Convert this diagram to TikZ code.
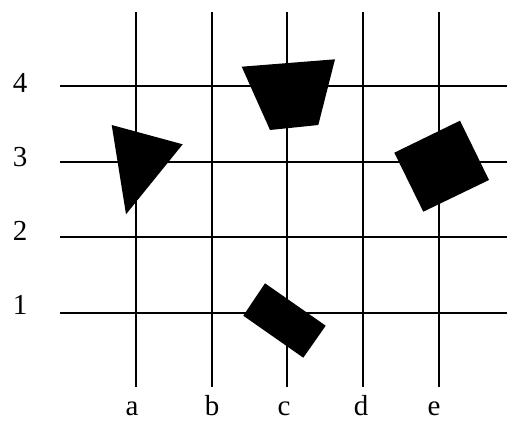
\documentclass[tikz,border=0pt]{standalone}
\usepackage{fontspec}
\setmainfont{Liberation Serif}
\begin{document}
\begin{tikzpicture}[x=1pt,y=-1pt,
  gridline/.style={line width=2pt,black},
  shapefill/.style={fill=black},
  lbl/.style={font=\fontsize{29}{29}\selectfont,inner sep=0pt,anchor=base}]
\useasboundingbox (0,0) rectangle (507,421);
% vertical lines
\foreach \x in {136,212,287,363,439}
  \draw[gridline] (\x,12) -- (\x,387);
% horizontal lines
\foreach \y in {86,162,237,313}
  \draw[gridline] (60,\y) -- (507,\y);
% row labels
\node[lbl] (r4) at (20,92) {4};
\node[lbl] (r3) at (20,166) {3};
\node[lbl] (r2) at (20,240) {2};
\node[lbl] (r1) at (20,314) {1};
% column labels
\node[lbl] (ca) at (132,415.5) {a};
\node[lbl] (cb) at (212,415.5) {b};
\node[lbl] (cc) at (284,415.5) {c};
\node[lbl] (cd) at (361,415.5) {d};
\node[lbl] (ce) at (434,415.5) {e};
% shapes
\fill[shapefill] (111.7,125) -- (182.7,144.3) -- (126,214.3) -- cycle;
\fill[shapefill] (241.7,66.7) -- (335,59.3) -- (318.3,125) -- (270,130) -- cycle;
\fill[shapefill] (394.3,152.7) -- (460,120.7) -- (489,180) -- (423.3,211.7) -- cycle;
\fill[shapefill] (265,283.3) -- (325.7,325.7) -- (303.3,357.7) -- (243.3,315.7) -- cycle;
\end{tikzpicture}
\end{document}
